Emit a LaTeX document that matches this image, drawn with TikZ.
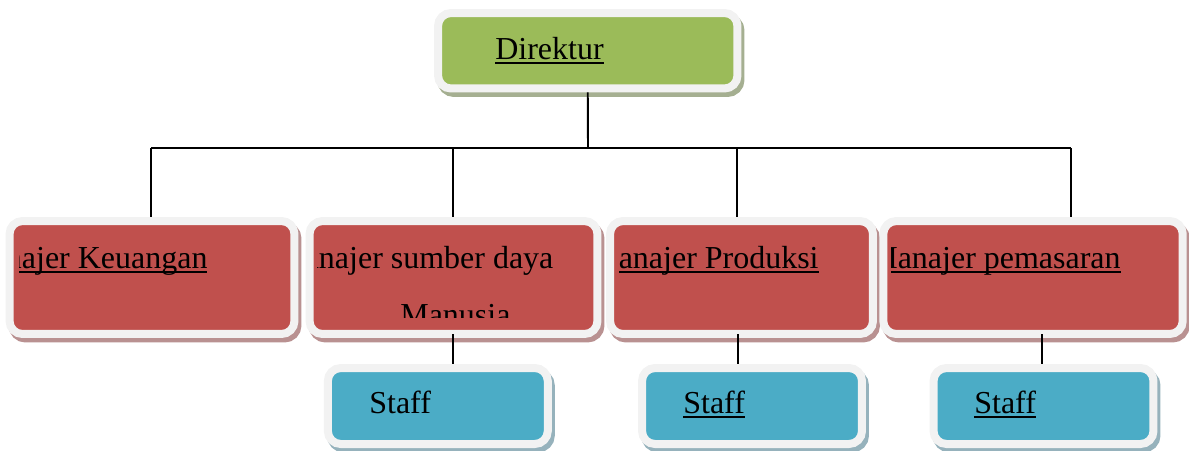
\documentclass[tikz,border=0pt]{standalone}
\usepackage{fontspec}
\setmainfont{Liberation Serif}
\usepackage{tikz}
\usetikzlibrary{shadows}
\definecolor{dirgreen}{RGB}{155,187,89}
\definecolor{mgrred}{RGB}{192,80,77}
\definecolor{staffblue}{RGB}{75,172,198}
\definecolor{framegray}{RGB}{242,242,242}
\definecolor{greenshade}{RGB}{165,175,145}
\definecolor{redshade}{RGB}{185,145,145}
\definecolor{blueshade}{RGB}{150,178,188}
\newsavebox{\ulbox}
\newcommand{\ulword}[1]{\sbox{\ulbox}{#1}\rlap{\rule[-2.6pt]{\wd\ulbox}{0.9pt}}\usebox{\ulbox}}

\begin{document}
\begin{tikzpicture}[x=0.02cm, y=-0.02cm, font=\fontsize{18.2}{22}\selectfont,
    frame/.style={rectangle, rounded corners=0.26cm, draw=framegray, line width=0.16cm, inner sep=0pt},
    dirbox/.style={frame, fill=dirgreen, minimum width=5.99cm, minimum height=1.51cm,
        drop shadow={shadow xshift=0.06cm, shadow yshift=-0.09cm, fill=greenshade, draw=greenshade, line width=0.16cm, opacity=1}},
    mgrbox/.style={frame, fill=mgrred, minimum height=2.26cm,
        drop shadow={shadow xshift=0.06cm, shadow yshift=-0.09cm, fill=redshade, draw=redshade, line width=0.16cm, opacity=1}},
    staffbox/.style={frame, fill=staffblue, minimum width=4.4cm, minimum height=1.52cm,
        drop shadow={shadow xshift=0.06cm, shadow yshift=-0.09cm, fill=blueshade, draw=blueshade, line width=0.16cm, opacity=1}},
    link/.style={line width=1.1pt},
    label/.style={anchor=base west, inner sep=0pt}]

        \useasboundingbox (0,0) rectangle (1189,450);

        \node (dir) at (587.75,50.75) [dirbox] {};
        \node (m1) at (152,277.5) [mgrbox, minimum width=5.7cm] {};
        \node (m2) at (453.5,277.5) [mgrbox, minimum width=5.76cm] {};
        \node (m3) at (741.5,277.5) [mgrbox, minimum width=5.26cm] {};
        \node (m4) at (1033,277.5) [mgrbox, minimum width=5.99cm] {};
        \node (s1) at (437.8,406) [staffbox] {};
        \node (s2) at (752,406) [staffbox] {};
        \node (s3) at (1043.5,406) [staffbox] {};

        \coordinate (bus0) at (588,148);
        \coordinate (bus1) at (151,148);
        \coordinate (bus2) at (453,148);
        \coordinate (bus3) at (737,148);
        \coordinate (bus4) at (1071,148);
        \coordinate (drop2) at (453,334);
        \coordinate (drop3) at (738,334);
        \coordinate (drop4) at (1042,334);

        \draw[link] (dir.south) -- (bus0);
        \draw[link] (bus1) -- (bus4);
        \draw[link] (bus1) -- (bus1 |- m1.north);
        \draw[link] (bus2) -- (bus2 |- m2.north);
        \draw[link] (bus3) -- (bus3 |- m3.north);
        \draw[link] (bus4) -- (bus4 |- m4.north);
        \draw[link] (drop2) -- (drop2 |- s1.north);
        \draw[link] (drop3) -- (drop3 |- s2.north);
        \draw[link] (drop4) -- (drop4 |- s3.north);

        \node (dirtext) at (495,59) [label] {\ulword{Direktur}};

        \begin{scope}
            \clip (19,225) rectangle (291,317);
            \node (m1text) at (-37,268) [label] {\ulword{Manajer Keuangan}};
        \end{scope}
        \begin{scope}
            \clip (317,225) rectangle (593,317);
            \node (m2text) at (276,268) [label] {Manajer sumber daya};
            \node (m2text2) at (400,325) [label] {Manusia};
        \end{scope}
        \begin{scope}
            \clip (619,225) rectangle (869,317);
            \node (m3text) at (590,268) [label] {\ulword{Manajer Produksi}};
        \end{scope}
        \begin{scope}
            \clip (891,225) rectangle (1178,317);
            \node (m4text) at (869,268) [label] {\ulword{Manajer pemasaran}};
        \end{scope}

        \node (s1text) at (369,413) [label] {Staff};
        \node (s2text) at (683,413) [label] {\ulword{Staff}};
        \node (s3text) at (974,413) [label] {\ulword{Staff}};
    \end{tikzpicture}
\end{document}
